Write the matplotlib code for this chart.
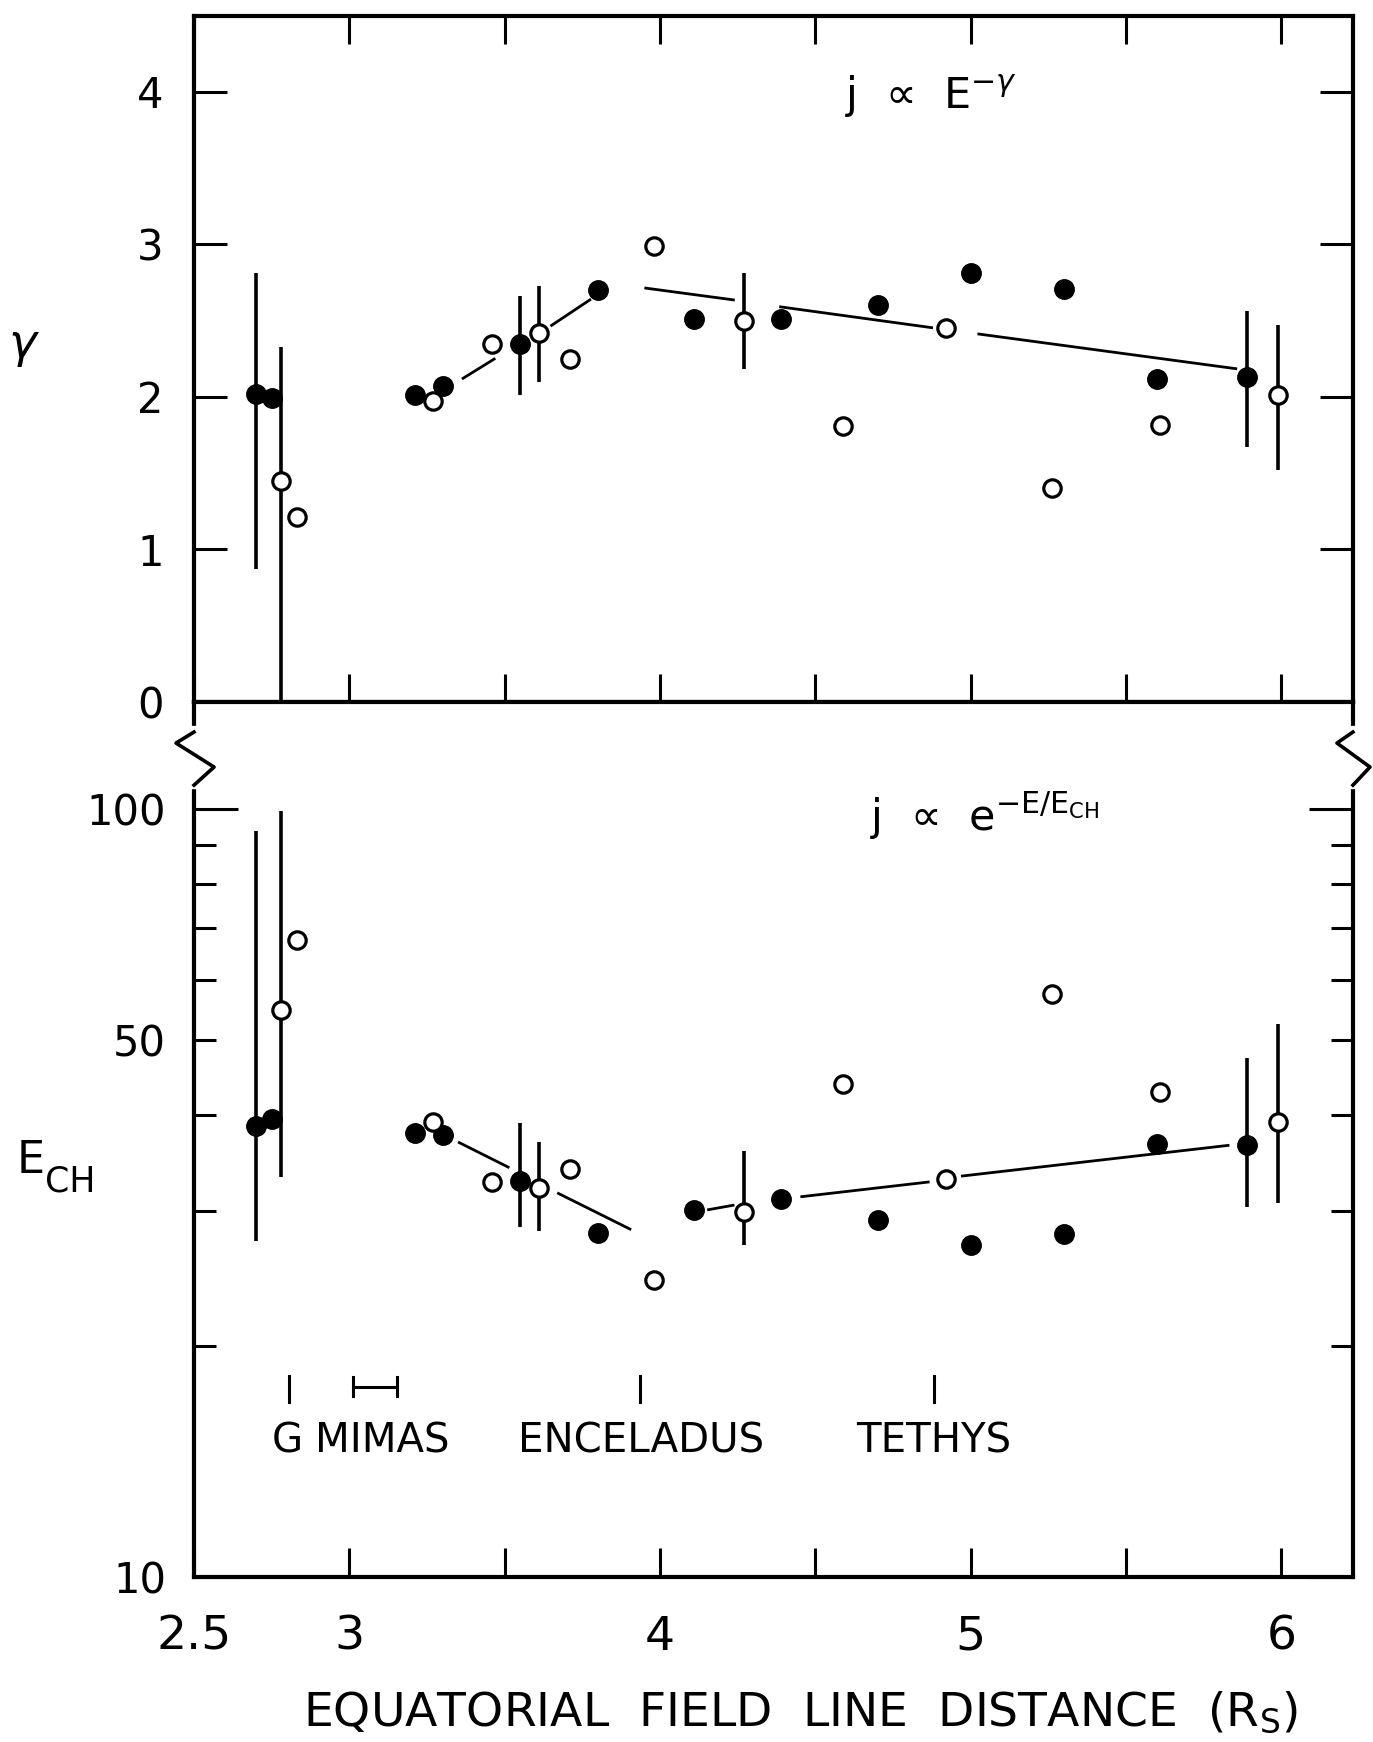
import matplotlib
matplotlib.use('Agg')
import matplotlib.pyplot as plt
import numpy as np
from matplotlib.ticker import FixedLocator, FixedFormatter, NullFormatter

# radial distance (R_s) of each pass, solid = inbound, open = outbound
L_filled = [2.70, 2.75, 3.21, 3.30, 3.55, 3.80, 4.11, 4.39, 4.70, 5.00, 5.30, 5.60, 5.89]
L_open = [2.78, 2.83, 3.27, 3.46, 3.61, 3.71, 3.98, 4.27, 4.59, 4.92, 5.26, 5.61, 5.99]

# power law index, j ~ E^-gamma
gamma_filled = [2.02, 1.99, 2.01, 2.07, 2.35, 2.70, 2.51, 2.51, 2.60, 2.81, 2.71, 2.12, 2.13]
gamma_open = [1.45, 1.21, 1.97, 2.35, 2.42, 2.25, 2.99, 2.50, 1.81, 2.45, 1.40, 1.815, 2.015]

# characteristic energy, j ~ exp(-E/E_CH)
ech_filled = [38.7, 39.5, 37.9, 37.7, 32.8, 28.1, 30.1, 31.1, 29.2, 27.1, 28.0, 36.7, 36.5]
ech_open = [54.8, 67.6, 39.2, 32.7, 32.1, 34.0, 24.4, 29.9, 43.9, 33.0, 57.4, 42.8, 39.2]

# error bars (x, low, high)
gamma_err_x = [2.70, 2.78, 3.55, 3.61, 4.27, 5.89, 5.99]
gamma_err_lo = [0.87, 0.0, 2.01, 2.10, 2.18, 1.67, 1.52]
gamma_err_hi = [2.81, 2.33, 2.66, 2.73, 2.81, 2.56, 2.47]

ech_err_x = [2.70, 2.78, 3.55, 3.61, 4.27, 5.89, 5.99]
ech_err_lo = [27.4, 33.2, 28.6, 28.2, 27.1, 30.3, 30.7]
ech_err_hi = [93.8, 99.6, 39.0, 36.9, 35.9, 47.5, 52.5]

# trend lines, drawn in pieces (gaps around the points)
gamma_fit_x = [[3.366, 3.466], [3.651, 3.774], [3.954, 4.236], [4.388, 4.874], [5.026, 5.853]]
gamma_fit_y = [[2.122, 2.248], [2.469, 2.636], [2.713, 2.636], [2.59, 2.454], [2.412, 2.185]]
ech_fit_x = [[3.354, 3.511], [3.673, 3.903], [4.156, 4.235], [4.456, 4.863], [4.973, 5.828]]
ech_fit_y = [[36.8, 34.2], [31.6, 28.4], [30.1, 30.5], [31.3, 32.7], [33.3, 36.5]]

# moons / ring positions
moon_names = ['G', 'MIMAS', 'ENCELADUS', 'TETHYS']
moon_label_x = [2.80, 3.107, 3.94, 4.88]
moon_pos = [2.807, 3.937, 4.883]
mimas_range = [3.013, 3.153]

x_ticks = [2.5, 3, 3.5, 4, 4.5, 5, 5.5, 6]
x_ticklabels = ['2.5', '3', '', '4', '', '5', '', '6']

plt.rcParams['font.family'] = 'DejaVu Sans'

fig = plt.figure(figsize=(13.73, 17.42), dpi=100)
ax1 = fig.add_axes([0.1413, 0.5970, 0.8441, 0.3941])
ax2 = fig.add_axes([0.1413, 0.0947, 0.8441, 0.5023])

lw_frame = 3.0
for ax in (ax1, ax2):
    for s in ax.spines.values():
        s.set_linewidth(lw_frame)
    ax.set_xlim(2.5, 6.23)

mk_f = dict(marker='o', ms=14, mfc='k', mec='k', ls='none', zorder=4)
mk_o = dict(marker='o', ms=12.5, mfc='white', mec='k', mew=2.3, ls='none', zorder=4)

# ---- top panel: gamma ----
ax1.vlines(gamma_err_x, gamma_err_lo, gamma_err_hi, colors='k', lw=2.6, zorder=3)
for fx, fy in zip(gamma_fit_x, gamma_fit_y):
    ax1.plot(fx, fy, color='k', lw=2.0, zorder=2)
ax1.plot(L_filled, gamma_filled, **mk_f)
ax1.plot(L_open, gamma_open, **mk_o)

ax1.set_ylim(0, 4.5)
ax1.set_yticks([0, 1, 2, 3, 4])
ax1.set_yticklabels(['0', '1', '2', '3', '4'])
ax1.xaxis.set_major_locator(FixedLocator(x_ticks))
ax1.xaxis.set_major_formatter(NullFormatter())
ax1.tick_params(axis='x', which='major', direction='in', top=True, bottom=True,
                length=20, width=2.2, labelbottom=False)
ax1.tick_params(axis='y', which='major', direction='in', left=True, right=True,
                length=24, width=2.2, labelsize=30, pad=22)

ax1.text(0.5617, 0.8638, r'j  ∝  E$^{-\gamma}$', transform=ax1.transAxes,
         fontsize=31, ha='left', va='baseline')
ax1.text(-0.1467, 0.518, r'$\gamma$', transform=ax1.transAxes,
         fontsize=34, ha='center', va='center')

# ---- bottom panel: E_CH ----
ax2.set_yscale('log')
ax2.vlines(ech_err_x, ech_err_lo, ech_err_hi, colors='k', lw=2.6, zorder=3)
for fx, fy in zip(ech_fit_x, ech_fit_y):
    ax2.plot(fx, fy, color='k', lw=2.0, zorder=2)
ax2.plot(L_filled, ech_filled, **mk_f)
ax2.plot(L_open, ech_open, **mk_o)

ax2.set_ylim(10, 138)
ax2.yaxis.set_major_locator(FixedLocator([10, 100]))
ax2.yaxis.set_major_formatter(FixedFormatter(['10', '100']))
ax2.yaxis.set_minor_locator(FixedLocator([20, 30, 40, 50, 60, 70, 80, 90]))
ax2.yaxis.set_minor_formatter(FixedFormatter(['', '', '', '50', '', '', '', '']))
ax2.tick_params(axis='y', which='major', direction='in', left=True, right=True,
                length=32, width=2.2, labelsize=30, pad=20)
ax2.tick_params(axis='y', which='minor', direction='in', left=True, right=True,
                length=16, width=2.2, labelsize=30, pad=20)
ax2.xaxis.set_major_locator(FixedLocator(x_ticks))
ax2.xaxis.set_major_formatter(FixedFormatter(x_ticklabels))
ax2.tick_params(axis='x', which='major', direction='in', top=False, bottom=True,
                length=21, width=2.2, labelsize=34, pad=27)

# moon markers
for mx in moon_pos:
    ax2.plot([mx, mx], [16.9, 18.3], color='k', lw=2.2)
ax2.plot(mimas_range, [17.7, 17.7], color='k', lw=2.2)
for mx in mimas_range:
    ax2.plot([mx, mx], [17.2, 18.2], color='k', lw=2.2)
for name, mx in zip(moon_names, moon_label_x):
    ax2.text(mx, 15.0, name, fontsize=29, ha='center', va='center')

ax2.text(0.5833, 0.8526, r'j  ∝  e$^{-\mathrm{E/E}_{\mathrm{CH}}}$', transform=ax2.transAxes,
         fontsize=31, ha='left', va='baseline')
ax2.text(-0.153, 0.4766, 'E', transform=ax2.transAxes, fontsize=32, ha='left', va='center')
ax2.text(-0.1286, 0.4526, 'CH', transform=ax2.transAxes, fontsize=25, ha='left', va='center')

# axis break symbols on both sides
for x0, xa, xb in [(0.0, -0.0155, 0.0173), (1.0, -0.0138, 0.0147)]:
    ax2.plot([x0, x0], [0.905, 0.968], transform=ax2.transAxes, color='white',
             lw=6, clip_on=False, zorder=5)
    ax2.plot([x0, x0 + xa, x0 + xb, x0], [0.9657, 0.9531, 0.9257, 0.9050],
             transform=ax2.transAxes, color='k', lw=2.6, clip_on=False, zorder=6)

fig.text(0.583, 0.0166, r'EQUATORIAL  FIELD  LINE  DISTANCE  (R$_{\mathrm{S}}$)',
         fontsize=34, ha='center', va='center')

fig.savefig('out.png', dpi=100)
